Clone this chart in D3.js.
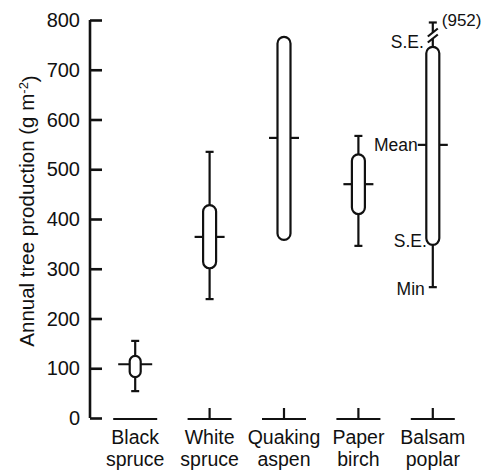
<!DOCTYPE html>
<html>
<head>
<meta charset="utf-8">
<script src="https://cdn.jsdelivr.net/npm/d3@7"></script>
<style>
  body { margin: 0; background: #fff; }
  svg text { font-family: "Liberation Sans", Arial, sans-serif; fill: #111; }
</style>
</head>
<body>
<svg id="chart" width="485" height="472"></svg>
<script>
const species = ["Black spruce", "White spruce", "Quaking aspen", "Paper birch", "Balsam poplar"];
const means = [108, 364, 563, 470, 549];
const seLow = [82, 301, 358, 410, 348];
const seHigh = [125, 428, 766, 530, 746];
const mins = [54, 239, null, 346, 263];
const maxs = [155, 535, null, 567, 952];
const yTicks = [0, 100, 200, 300, 400, 500, 600, 700, 800];

const data = species.map((s, i) => ({
  name: s, mean: means[i], lo: seLow[i], hi: seHigh[i], min: mins[i], max: maxs[i]
}));

const svg = d3.select("#chart");
const axisX = 90;

const y = d3.scaleLinear().domain([0, 800]).range([418, 20]);
const x = d3.scaleBand().domain(species).range([98, 470]);
const cx = d => x(d.name) + x.bandwidth() / 2;
const yTop = 795; // where off-scale whiskers get cut

// y axis
const yAxis = svg.append("g")
  .attr("transform", `translate(${axisX},0)`)
  .call(d3.axisRight(y).tickValues(yTicks).tickSize(12).tickFormat(""));
yAxis.select(".domain").attr("d", `M0,${y(800)}V${y(0)}`)
  .attr("stroke", "#111").attr("stroke-width", 2.6);
yAxis.selectAll(".tick line").attr("stroke", "#111").attr("stroke-width", 2.6);

svg.append("g").selectAll("text")
  .data(yTicks)
  .join("text")
    .attr("x", axisX - 10)
    .attr("y", d => y(d))
    .attr("dy", "0.36em")
    .attr("text-anchor", "end")
    .style("font-size", "20px")
    .text(d => d);

// axis title
const title = svg.append("text")
  .attr("transform", `translate(34,${211}) rotate(-90)`)
  .attr("text-anchor", "middle")
  .style("font-size", "20.5px");
title.append("tspan").text("Annual tree production (g m");
title.append("tspan").attr("dy", "-0.45em").style("font-size", "13px").text("-2");
title.append("tspan").attr("dy", "0.45em").text(")");

// baseline segments under each species
const base = svg.append("g").attr("stroke", "#111").attr("stroke-width", 2.2);
base.selectAll("line.base")
  .data(data)
  .join("line")
    .attr("class", "base")
    .attr("x1", d => cx(d) - 22).attr("x2", d => cx(d) + 22)
    .attr("y1", y(0) + 1).attr("y2", y(0) + 1);
base.selectAll("line.btick")
  .data(data.slice(1))
  .join("line")
    .attr("class", "btick")
    .attr("x1", d => cx(d)).attr("x2", d => cx(d))
    .attr("y1", y(0) + 1).attr("y2", y(0) - 10);

// category labels
svg.append("g").selectAll("text")
  .data(data)
  .join("text")
    .attr("x", d => cx(d))
    .attr("y", 444)
    .attr("text-anchor", "middle")
    .style("font-size", "19.5px")
    .each(function(d) {
      const w = d.name.split(" ");
      d3.select(this).append("tspan").attr("x", cx(d)).text(w[0]);
      d3.select(this).append("tspan").attr("x", cx(d)).attr("dy", 22).text(w[1]);
    });

// whiskers
const marks = svg.append("g").attr("stroke", "#111").attr("stroke-width", 2.2).attr("fill", "none");
data.forEach((d, i) => {
  const c = cx(d);
  if (d.min != null) {
    marks.append("line").attr("x1", c).attr("x2", c).attr("y1", y(d.lo)).attr("y2", y(d.min));
    marks.append("line").attr("x1", c - 4).attr("x2", c + 4).attr("y1", y(d.min)).attr("y2", y(d.min));
  }
  if (d.max != null) {
    const top = Math.min(d.max, yTop);
    marks.append("line").attr("x1", c).attr("x2", c).attr("y1", y(d.hi)).attr("y2", y(top));
    marks.append("line").attr("x1", c - 4).attr("x2", c + 4).attr("y1", y(top)).attr("y2", y(top));
    if (d.max > yTop) {
      // axis break marks
      const yb = y(top) + 13;
      marks.append("line").attr("x1", c).attr("x2", c).attr("y1", yb - 3).attr("y2", yb + 3)
        .attr("stroke", "#fff").attr("stroke-width", 4);
      [-3, 3].forEach(off => {
        marks.append("line")
          .attr("x1", c - 5).attr("y1", yb + off + 4)
          .attr("x2", c + 5).attr("y2", yb + off - 4);
      });
    }
  }
  // mean tick
  const hw = i === 0 ? 17 : 15;
  marks.append("line").attr("x1", c - hw).attr("x2", c + hw).attr("y1", y(d.mean)).attr("y2", y(d.mean));
});

// capsules (S.E. range)
svg.append("g").selectAll("rect")
  .data(data)
  .join("rect")
    .attr("x", (d, i) => cx(d) - (i === 0 ? 5.5 : 6.5))
    .attr("width", (d, i) => i === 0 ? 11 : 13)
    .attr("y", d => y(d.hi))
    .attr("height", d => y(d.lo) - y(d.hi))
    .attr("rx", (d, i) => i === 0 ? 5.5 : 6.5)
    .attr("fill", "#fff")
    .attr("stroke", "#111")
    .attr("stroke-width", 2.2);

// annotations on balsam poplar
const bp = data[4];
const bx = cx(bp);
const ann = svg.append("g").style("font-size", "17.5px");
ann.append("text").attr("x", bx - 9).attr("y", y(bp.hi) + 1).attr("text-anchor", "end").text("S.E.");
ann.append("text").attr("x", bx - 15).attr("y", y(bp.mean)).attr("dy", "0.36em").attr("text-anchor", "end").text("Mean");
ann.append("text").attr("x", bx - 6).attr("y", y(bp.lo) + 2).attr("text-anchor", "end").text("S.E.");
ann.append("text").attr("x", bx - 8).attr("y", y(bp.min) + 8).attr("text-anchor", "end").text("Min");
ann.append("text").attr("x", bx + 9).attr("y", y(yTop) + 4).style("font-size", "17px").text(`(${bp.max})`);
</script>
</body>
</html>
